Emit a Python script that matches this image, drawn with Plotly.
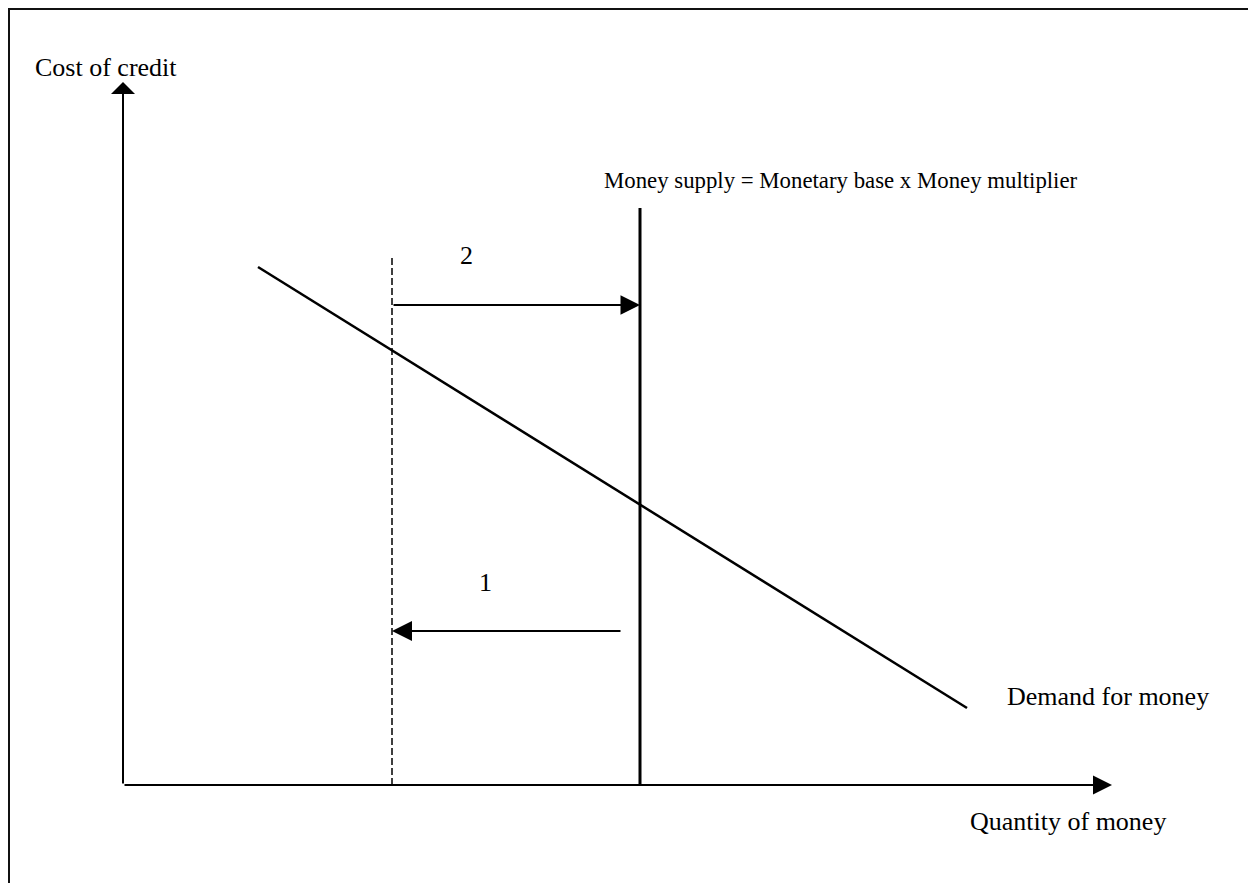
import plotly.graph_objects as go

# ---- data (diagram units: origin at the axes' corner) ----
x_axis_end = 989          # quantity axis length
y_axis_end = 703          # cost axis length
demand_x = [135, 844]
demand_y = [518, 77]
supply_x = 517
supply_top = 577
new_supply_x = 269
new_supply_top = 527
arrow2_y = 480
arrow1_y = 154
arrow1_start = 499
label_2 = (343, 530)
label_1 = (362, 203)

# page body has an 8px margin; ranges compensate so the drawing sits where the reference has it
x_range = [-115, 1141]
y_range = [-106, 777]

FONT = "Liberation Serif"
TXT = 26

fig = go.Figure()

# demand curve
fig.add_trace(go.Scatter(x=demand_x, y=demand_y, mode="lines",
                         line=dict(color="black", width=2.5), hoverinfo="skip"))
# money supply (solid)
fig.add_trace(go.Scatter(x=[supply_x, supply_x], y=[0, supply_top], mode="lines",
                         line=dict(color="black", width=3), hoverinfo="skip"))
# reduced money supply (dashed)
fig.add_trace(go.Scatter(x=[new_supply_x, new_supply_x], y=[0, new_supply_top], mode="lines",
                         line=dict(color="black", width=1.5, dash="7px,3px"), hoverinfo="skip"))

annotations = []

def arrow(x0, y0, x1, y1, head=2, w=2, size=2):
    annotations.append(dict(x=x1, y=y1, ax=x0, ay=y0, xref="x", yref="y",
                            axref="x", ayref="y", text="", showarrow=True,
                            arrowhead=head, arrowsize=size, arrowwidth=w,
                            arrowcolor="black", standoff=0, startstandoff=0))

# axes
arrow(0, 0, x_axis_end, 0, head=2, w=2, size=1.9)
arrow(0, 0, 0, y_axis_end, head=1, w=2, size=2.0)
# shift arrows
arrow(new_supply_x, arrow2_y, supply_x, arrow2_y, head=2, w=2, size=1.95)
arrow(arrow1_start, arrow1_y, new_supply_x, arrow1_y, head=2, w=2, size=2.0)

def label(x, y, text, xanchor="left", size=TXT):
    annotations.append(dict(x=x, y=y, xref="x", yref="y", text=text, showarrow=False,
                            xanchor=xanchor, yanchor="middle",
                            font=dict(family=FONT, size=size, color="black")))

label(label_2[0], label_2[1], "2", "center")
label(label_1[0], label_1[1], "1", "center")
label(479, 605, "Money supply = Monetary base x Money multiplier", size=22.8)
label(-90, 718, "Cost of credit")
label(882, 89, "Demand for money")
label(845, -36, "Quantity of money")

fig.update_layout(
    width=1256, height=883,
    margin=dict(l=0, r=0, t=0, b=0),
    paper_bgcolor="white", plot_bgcolor="white",
    showlegend=False,
    xaxis=dict(range=x_range, visible=False, fixedrange=True),
    yaxis=dict(range=y_range, visible=False, fixedrange=True),
    annotations=annotations,
    shapes=[dict(type="rect", xref="paper", yref="paper",
                 x0=1 / 1256, x1=1246 / 1256, y0=-0.05, y1=1 - 1 / 883,
                 line=dict(color="#111", width=2))],
)

fig.write_html("out.html", config={"displayModeBar": False})
